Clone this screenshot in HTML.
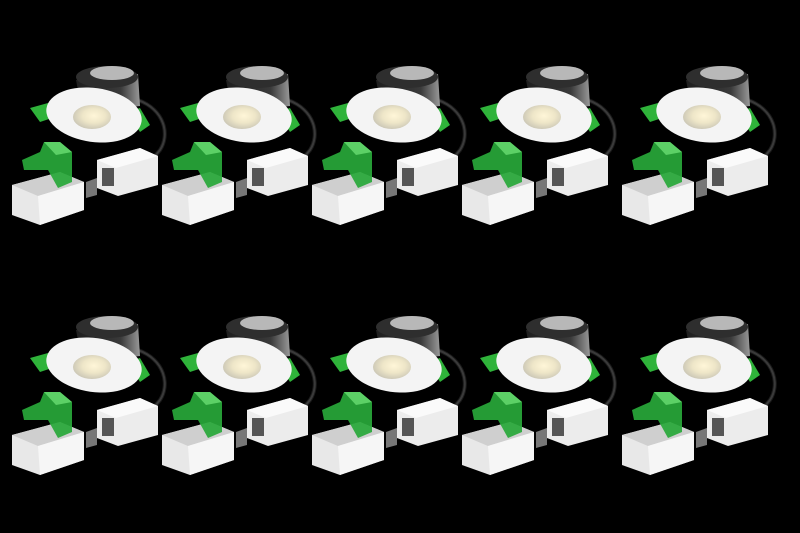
<!DOCTYPE html>
<html><head><style>html,body{margin:0;padding:0;background:#000;}svg{display:block}</style></head>
<body>
<svg width="800" height="533" viewBox="0 0 800 533" xmlns="http://www.w3.org/2000/svg">
<defs>
<linearGradient id="hs" x1="0" x2="1"><stop offset="0" stop-color="#1e1e1e"/><stop offset="0.7" stop-color="#3a3a3a"/><stop offset="1" stop-color="#999"/></linearGradient>
<radialGradient id="led" cx="0.55" cy="0.45" r="0.6"><stop offset="0" stop-color="#fff6d8"/><stop offset="0.5" stop-color="#eee6c8"/><stop offset="1" stop-color="#c8c4b4"/></radialGradient>
<g id="u">
<path d="M138,100 C165,110 170,135 160,150 L150,162" stroke="#1a1a1a" stroke-width="4" fill="none"/>
<path d="M138,100 C165,110 170,135 160,150 L150,162" stroke="#3a3a3a" stroke-width="2" fill="none"/>
<path d="M76,80 L138,74 L140,106 L82,112 Z" fill="url(#hs)"/>
<ellipse cx="107" cy="77" rx="31" ry="11" fill="#2e2e2e"/>
<ellipse cx="112" cy="73" rx="22" ry="7" fill="#b8b8b8"/>
<path d="M30,108 L48,103 L52,118 L40,122 Z" fill="#2fb33a"/>
<path d="M128,112 L140,108 L150,125 L140,132 Z" fill="#2fb33a"/>
<ellipse cx="94" cy="115" rx="48" ry="27" transform="rotate(8 94 115)" fill="#f4f4f4"/>
<ellipse cx="92" cy="117" rx="19" ry="12" fill="url(#led)"/>
<path d="M97,160 L140,148 L158,156 L158,185 L118,196 L97,188 Z" fill="#ececec"/>
<path d="M97,160 L140,148 L158,156 L116,168 Z" fill="#fafafa"/>
<rect x="102" y="168" width="12" height="18" fill="#555"/>
<path d="M86,182 L97,178 L97,195 L86,198 Z" fill="#777"/>
<path d="M12,185 L60,172 L84,182 L84,210 L40,225 L12,215 Z" fill="#e8e8e8"/>
<path d="M12,185 L60,172 L84,182 L38,196 Z" fill="#cfcfcf"/>
<path d="M38,196 L84,182 L84,210 L40,225 Z" fill="#f6f6f6"/>
<path d="M22,160 L40,152 L44,142 L60,142 L72,152 L72,182 L58,188 L48,170 L24,170 Z" fill="#28a83a" opacity="0.92"/>
<path d="M44,142 L60,142 L72,152 L56,155 Z" fill="#5cd066"/>
</g>
</defs>
<use href="#u" x="0" y="0"/><use href="#u" x="150" y="0"/><use href="#u" x="300" y="0"/><use href="#u" x="450" y="0"/><use href="#u" x="610" y="0"/>
<use href="#u" x="0" y="250"/><use href="#u" x="150" y="250"/><use href="#u" x="300" y="250"/><use href="#u" x="450" y="250"/><use href="#u" x="610" y="250"/>
</svg>
</body></html>
